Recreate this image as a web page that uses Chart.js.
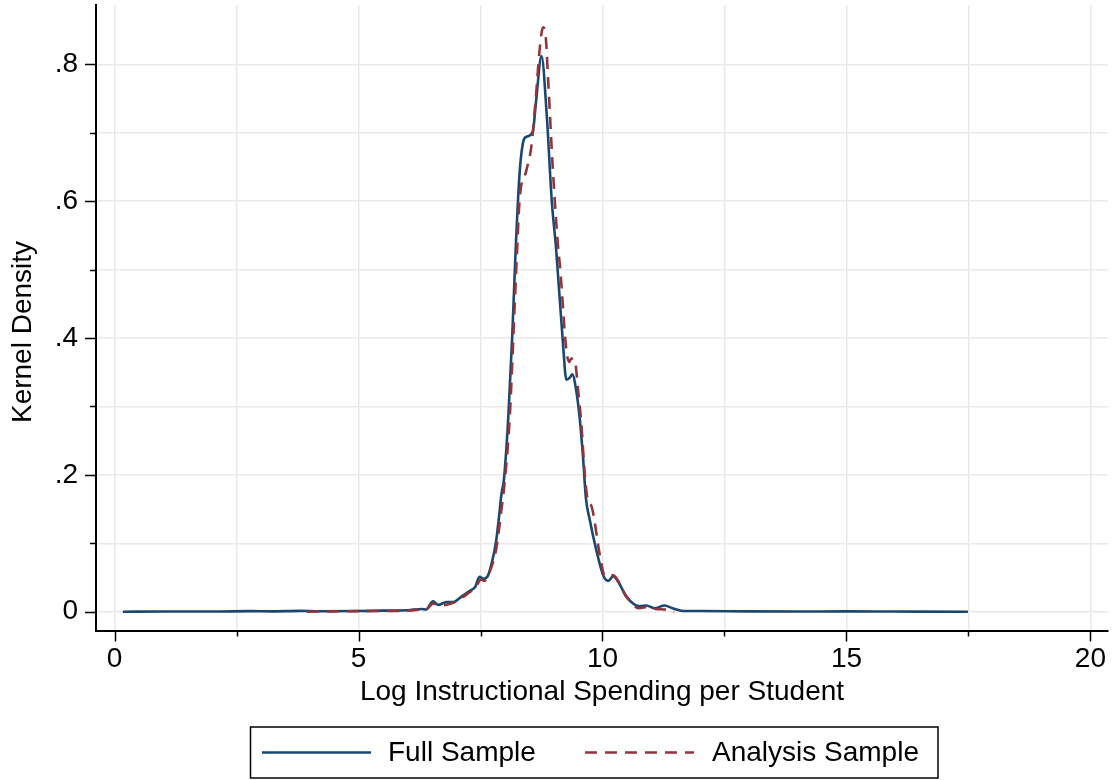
<!DOCTYPE html>
<html>
<head>
<meta charset="utf-8">
<script src="https://cdn.jsdelivr.net/npm/chart.js@4.4.1/dist/chart.umd.min.js"></script>
<style>
  html, body { margin: 0; padding: 0; background: #fff; }
  #wrap { width: 1115px; height: 780px; position: relative; }
</style>
</head>
<body>
<div id="wrap"><canvas id="c"></canvas></div>
<script>
// kernel density estimates
const fullX = [0.17, 1.0, 2.0, 2.8, 3.2, 3.8, 4.2, 5.0, 5.5, 6.0, 6.3, 6.38, 6.5, 6.53, 6.63, 6.8, 6.94,
  7.11, 7.29, 7.39, 7.48, 7.56, 7.64, 7.73, 7.82, 7.88, 7.93, 7.98, 8.07, 8.15, 8.22, 8.3, 8.37, 8.44,
  8.57, 8.64, 8.75, 8.86, 8.96, 9.05, 9.19, 9.26, 9.33, 9.38, 9.46, 9.53, 9.6, 9.66, 9.74, 9.87,
  10.02, 10.12, 10.22, 10.32, 10.49, 10.76, 10.9, 11.07, 11.27, 11.44, 11.65, 12.0, 13.0, 14.0, 15.0, 16.0, 17.49]
const fullY = [0, 0.0003, 0.0002, 0.0008, 0.0004, 0.0012, 0.0006, 0.001, 0.0015, 0.002, 0.004, 0.003, 0.014, 0.015, 0.010, 0.014, 0.014,
  0.022, 0.031, 0.036, 0.051, 0.048, 0.051, 0.071, 0.103, 0.139, 0.172, 0.193, 0.285, 0.402, 0.528, 0.640, 0.685, 0.694,
  0.701, 0.747, 0.812, 0.723, 0.601, 0.530, 0.392, 0.339, 0.342, 0.347, 0.324, 0.285, 0.227, 0.166, 0.134, 0.091,
  0.052, 0.045, 0.052, 0.044, 0.022, 0.008, 0.009, 0.005, 0.009, 0.005, 0.001, 0.001, 0.0005, 0.0003, 0.0004, 0.0002, 0]

const analysisX = [3.94, 4.5, 5.0, 5.5, 6.0, 6.3, 6.38, 6.53, 6.66, 6.94, 7.21, 7.41, 7.51, 7.58, 7.68, 7.82, 7.92,
  8.0, 8.1, 8.19, 8.25, 8.3, 8.44, 8.54, 8.64, 8.71, 8.78, 8.83, 8.89, 8.98, 9.09, 9.13, 9.26, 9.32, 9.36,
  9.43, 9.5, 9.57, 9.63, 9.69, 9.78, 9.95, 10.05, 10.22, 10.32, 10.49, 10.76, 10.92, 11.09, 11.3, 11.47]
const analysisY = [0, 0.0005, 0.0008, 0.001, 0.0015, 0.003, 0.003, 0.012, 0.009, 0.013, 0.025, 0.037, 0.047, 0.045, 0.057, 0.091, 0.144,
  0.193, 0.285, 0.431, 0.528, 0.601, 0.645, 0.679, 0.757, 0.820, 0.854, 0.845, 0.772, 0.650, 0.533, 0.504, 0.382, 0.365, 0.370,
  0.368, 0.324, 0.271, 0.207, 0.166, 0.153, 0.081, 0.052, 0.053, 0.045, 0.022, 0.005, 0.007, 0.004, 0.003, 0]

const xTicks = [0, 2.5, 5, 7.5, 10, 12.5, 15, 17.5, 20]
const yTicks = [0, 0.1, 0.2, 0.3, 0.4, 0.5, 0.6, 0.7, 0.8]
const seriesNames = ["Full Sample", "Analysis Sample"]
const yTitle = "Kernel Density"

const FONT = { family: "'Liberation Sans', Arial, sans-serif", size: 28 }
const navy = "#1a476f"
const maroon = "#90353b"

const pts = (xs, ys) => xs.map((x, i) => ({ x, y: ys[i] }))
const isMajor = (v, step) => Math.abs(v / step - Math.round(v / step)) < 1e-6

// tick marks: long at labelled values, short in between
const tickMarks = {
  id: "tickMarks",
  afterDraw(chart) {
    const { ctx, scales: { x, y }, chartArea } = chart
    ctx.save()
    ctx.strokeStyle = "#000"
    ctx.lineWidth = 1.5
    ctx.beginPath()
    xTicks.forEach(v => {
      const px = Math.round(x.getPixelForValue(v)) + 0.5
      const len = isMajor(v, 5) ? 11 : 6
      ctx.moveTo(px, chartArea.bottom)
      ctx.lineTo(px, chartArea.bottom + len)
    })
    yTicks.forEach(v => {
      const py = Math.round(y.getPixelForValue(v)) + 0.5
      const len = isMajor(v, 0.2) ? 11 : 6
      ctx.moveTo(chartArea.left, py)
      ctx.lineTo(chartArea.left - len, py)
    })
    ctx.stroke()

    // y title, centred a little below the plot middle like the original
    ctx.fillStyle = "#000"
    ctx.font = `${FONT.size}px ${FONT.family}`
    ctx.textAlign = "center"
    ctx.textBaseline = "middle"
    ctx.translate(23, 332)
    ctx.rotate(-Math.PI / 2)
    ctx.fillText(yTitle, 0, 0)
    ctx.restore()
  }
}

// boxed legend below the x title
const boxLegend = {
  id: "boxLegend",
  afterDraw(chart) {
    const { ctx } = chart
    const box = { x: 250.5, y: 727, w: 687.5, h: 51 }
    const cy = box.y + box.h / 2
    ctx.save()
    ctx.strokeStyle = "#000"
    ctx.lineWidth = 1.5
    ctx.strokeRect(box.x, box.y, box.w, box.h)
    const slots = [{ line: 262, text: 388 }, { line: 585, text: 712 }]
    ctx.font = `${FONT.size}px ${FONT.family}`
    ctx.textBaseline = "middle"
    ctx.textAlign = "left"
    chart.data.datasets.forEach((ds, i) => {
      const s = slots[i]
      ctx.strokeStyle = ds.borderColor
      ctx.lineWidth = ds.borderWidth
      ctx.setLineDash(ds.borderDash || [])
      ctx.beginPath()
      ctx.moveTo(s.line, cy)
      ctx.lineTo(s.line + 109, cy)
      ctx.stroke()
      ctx.setLineDash([])
      ctx.fillStyle = "#000"
      ctx.fillText(ds.label, s.text, cy + 1)
    })
    ctx.restore()
  }
}

new Chart(document.getElementById("c"), {
  type: "line",
  data: {
    datasets: [
      {
        label: seriesNames[0],
        data: pts(fullX, fullY),
        borderColor: navy,
        borderWidth: 2.6,
        pointRadius: 0,
        cubicInterpolationMode: "monotone",
        order: 1
      },
      {
        label: seriesNames[1],
        data: pts(analysisX, analysisY),
        borderColor: maroon,
        borderWidth: 2.6,
        borderDash: [12, 8],
        pointRadius: 0,
        cubicInterpolationMode: "monotone",
        order: 0
      }
    ]
  },
  options: {
    responsive: true,
    maintainAspectRatio: false,
    animation: false,
    layout: { padding: { top: 5, right: 7, bottom: 0, left: 0 } },
    plugins: { legend: { display: false }, tooltip: { enabled: false } },
    scales: {
      x: {
        type: "linear",
        min: -0.38,
        max: 20.36,
        afterBuildTicks: s => { s.ticks = xTicks.map(v => ({ value: v })) },
        afterFit: s => { s.height = 149.5; s.paddingLeft = 0; s.paddingRight = 0 },
        grid: { color: "#eaeaea", lineWidth: 1.5, drawTicks: false },
        border: { display: true, color: "#000", width: 2 },
        ticks: {
          padding: 12,
          color: "#000",
          font: FONT,
          maxRotation: 0,
          autoSkip: false,
          callback: v => isMajor(v, 5) ? String(v) : ""
        },
        title: {
          display: true,
          text: "Log Instructional Spending per Student",
          color: "#000",
          font: FONT,
          padding: { top: 0, bottom: 71 }
        }
      },
      y: {
        type: "linear",
        min: -0.0275,
        max: 0.8867,
        afterBuildTicks: s => { s.ticks = yTicks.map(v => ({ value: v })) },
        afterFit: s => { s.width = 96; s.paddingTop = 0; s.paddingBottom = 0 },
        grid: { color: "#eaeaea", lineWidth: 1.5, drawTicks: false },
        border: { display: true, color: "#000", width: 2 },
        ticks: {
          padding: 18,
          color: "#000",
          font: FONT,
          autoSkip: false,
          callback: v => {
            if (!isMajor(v, 0.2)) return ""
            return v === 0 ? "0" : String(Number(v.toFixed(1))).replace(/^0/, "")
          }
        }
      }
    }
  },
  plugins: [tickMarks, boxLegend]
})
</script>
</body>
</html>
